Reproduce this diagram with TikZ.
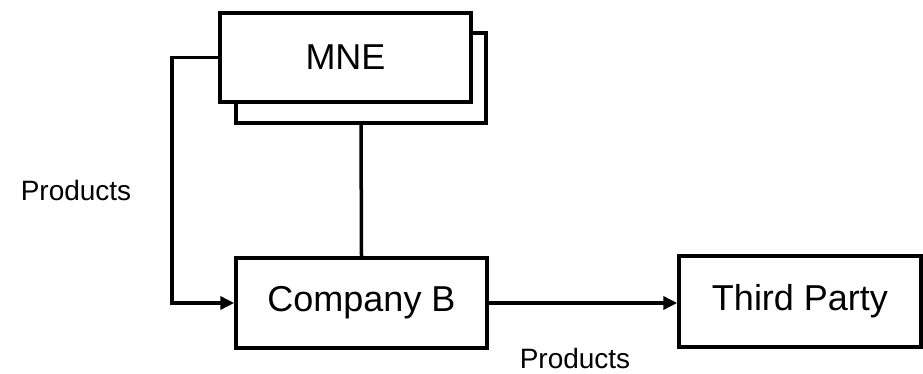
\documentclass[tikz,border=0pt]{standalone}
\usepackage{fontspec}
\setmainfont{Liberation Sans}
\usetikzlibrary{arrows.meta}
\begin{document}
\begin{tikzpicture}[x=1pt,y=-1pt,
  box/.style={draw=black,line width=3.5pt,fill=white,rectangle,inner sep=0pt,
    font=\fontsize{36}{43}\selectfont},
  lbl/.style={inner sep=0pt,font=\fontsize{28}{34}\selectfont},
  conn/.style={draw=black,line width=3.5pt},
  arr/.style={conn,-{Triangle[length=14pt,width=13pt]}}]
\useasboundingbox (0,0) rectangle (923,374);
\node[box,minimum width=250pt,minimum height=90pt] (mneback) at (361,78) {};
\node[box,minimum width=251pt,minimum height=89pt] (mne) at (345.5,57.5) {MNE};
\node[box,minimum width=251pt,minimum height=90pt] (cb) at (361.5,303) {Company B};
\node[box,minimum width=242pt,minimum height=91pt] (tp) at (800,301.5) {Third Party};
\node[lbl] (lp) at (76,190) {Products};
\node[lbl] (bp) at (575,358) {Products};
\coordinate (lc) at (172,57.5);
\draw[conn] (mneback.south) -- (cb.north);
\draw[arr] (mne.west) -- (lc) |- (cb.west);
\draw[arr] (cb.east) -- (cb.east -| tp.west);
\end{tikzpicture}
\end{document}
